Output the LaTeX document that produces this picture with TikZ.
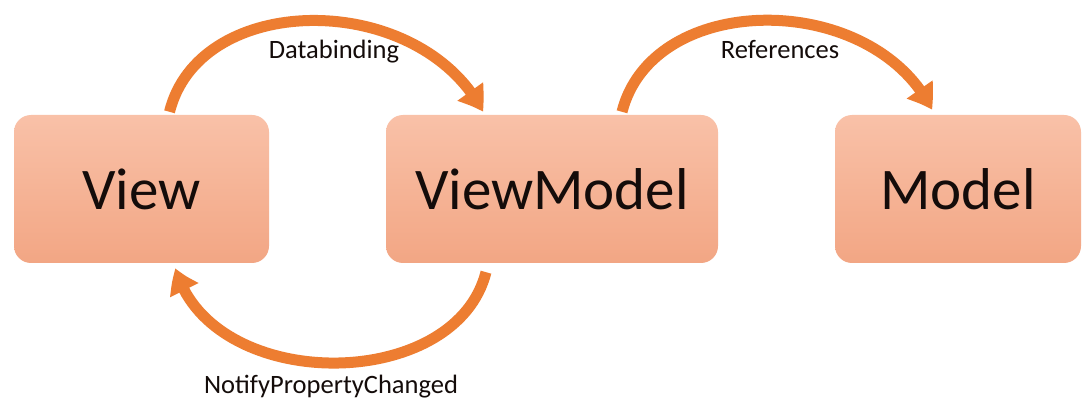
\documentclass[tikz,border=0pt]{standalone}
\usepackage{fontspec}
\setmainfont{Carlito}
\usetikzlibrary{arrows.meta,calc,bending}
\definecolor{arrowc}{RGB}{237,125,49}
\definecolor{boxtop}{RGB}{249,193,168}
\definecolor{boxbot}{RGB}{242,166,132}
\definecolor{txt}{RGB}{20,12,10}
\tikzset{
  box/.style={rounded corners=17pt, top color=boxtop, bottom color=boxbot, draw=none,
    minimum height=148pt, inner sep=0pt, font=\fontsize{59}{61}\selectfont, text=txt},
  flow/.style={draw=arrowc, line width=11pt, -{Triangle[length=24pt,width=30pt,bend]}},
  lbl/.style={font=\fontsize{26.5}{28}\selectfont, text=txt, anchor=base, inner sep=0pt}
}
\begin{document}
\begin{tikzpicture}[x=1pt,y=1pt]
\useasboundingbox (0,0) rectangle (1082,-398);
\fill[white] (0,0) rectangle (1082,-398);
\node[box, minimum width=255pt] (view) at (141.5,-189) {View};
\node[box, minimum width=332pt] (vm) at (552,-189) {ViewModel};
\node[box, minimum width=246pt] (model) at (958,-189) {Model};
\draw[flow] ($(view.north)+(28,3)$) .. controls (200,10) and (420,10) .. ($(vm.north)+(-69,3)$);
\draw[flow] ($(vm.north)+(70,3)$) .. controls (653,10) and (873,10) .. ($(model.north)+(-26,5)$);
\draw[flow] ($(vm.south)+(-66,-9)$) .. controls (455,-394) and (210,-394) .. ($(view.south)+(34,-5)$);
\node[lbl] (l1) at (334,-59) {Databinding};
\node[lbl] (l2) at (780,-59) {References};
\node[lbl] (l3) at (331,-393) {NotifyPropertyChanged};
\end{tikzpicture}
\end{document}
